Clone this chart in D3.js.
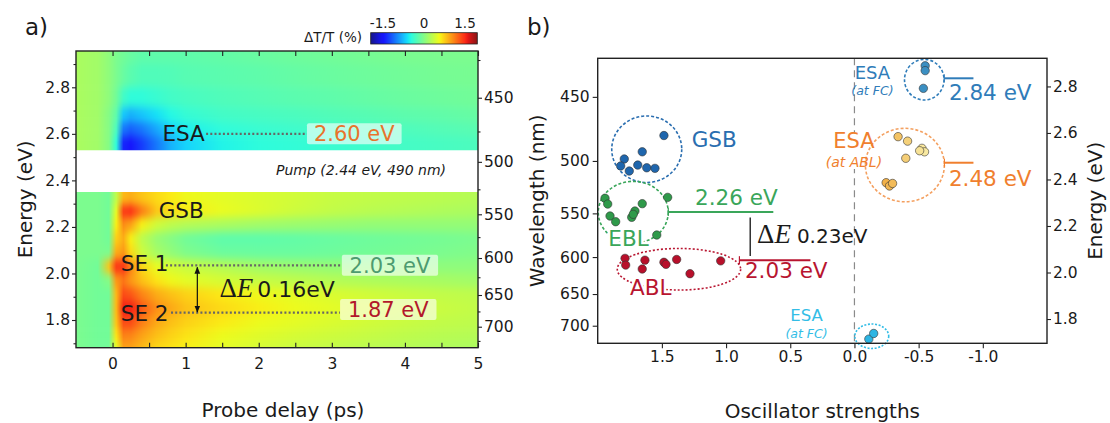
<!DOCTYPE html>
<html>
<head>
<meta charset="utf-8">
<script src="https://cdn.jsdelivr.net/npm/d3@7"></script>
<style>
  body { margin: 0; background: #fff; }
  svg text { font-family: "DejaVu Sans", sans-serif; fill: #1a1a1a; }
</style>
</head>
<body>
<svg id="fig" width="1110" height="423"></svg>
<script>
// ---------- data: panel a (transient map, dT/T in %) ----------
const delays = [-0.5, -0.2, -0.05, 0.05, 0.15, 0.25, 0.4, 0.6, 0.8, 1.0, 1.5, 2.0, 2.5, 3.0, 3.5, 4.0, 4.5, 5.0];

// above the pump window (rows from high to low energy)
const energiesHigh = [2.95, 2.85, 2.75, 2.68, 2.62, 2.56];
const signalHigh = [
  [0.2, 0.15, 0.05, -0.05, -0.1, -0.15, -0.2, -0.2, -0.2, -0.2, -0.18, -0.15, -0.12, -0.1, -0.08, -0.06, -0.05, -0.05],
  [0.2, 0.15, 0.05, -0.05, -0.15, -0.22, -0.28, -0.28, -0.27, -0.24, -0.22, -0.2, -0.17, -0.14, -0.12, -0.1, -0.08, -0.07],
  [0.2, 0.15, 0.05, -0.1, -0.35, -0.45, -0.45, -0.4, -0.35, -0.32, -0.28, -0.25, -0.22, -0.2, -0.17, -0.14, -0.12, -0.1],
  [0.2, 0.15, 0.0, -0.2, -0.7, -0.8, -0.72, -0.6, -0.5, -0.42, -0.35, -0.32, -0.3, -0.27, -0.24, -0.21, -0.19, -0.16],
  [0.2, 0.15, 0.0, -0.3, -1.05, -1.15, -1.05, -0.85, -0.65, -0.55, -0.45, -0.4, -0.37, -0.34, -0.31, -0.29, -0.26, -0.23],
  [0.2, 0.15, 0.0, -0.45, -1.4, -1.5, -1.3, -1.05, -0.8, -0.66, -0.52, -0.46, -0.43, -0.4, -0.37, -0.34, -0.32, -0.3]
];

// below the pump window
const energiesLow = [2.32, 2.27, 2.21, 2.15, 2.09, 2.03, 1.97, 1.91, 1.85, 1.79, 1.73, 1.68];
const signalLow = [
  [-0.05, -0.05, -0.1, 0.3, 0.85, 0.9, 0.8, 0.7, 0.62, 0.56, 0.5, 0.45, 0.4, 0.35, 0.32, 0.3, 0.28, 0.25],
  [-0.05, -0.05, -0.1, 0.5, 1.45, 1.5, 1.15, 0.8, 0.68, 0.62, 0.53, 0.46, 0.38, 0.32, 0.28, 0.25, 0.22, 0.2],
  [-0.05, -0.05, -0.1, 0.6, 1.05, 0.95, 0.6, 0.4, 0.3, 0.25, 0.2, 0.15, 0.12, 0.1, 0.08, 0.08, 0.08, 0.08],
  [-0.05, -0.05, -0.1, 0.75, 0.9, 0.6, 0.3, 0.1, 0.0, -0.1, -0.2, -0.2, -0.18, -0.15, -0.12, -0.1, -0.08, -0.05],
  [-0.05, -0.05, -0.05, 0.9, 1.0, 0.7, 0.38, 0.18, 0.07, -0.03, -0.13, -0.14, -0.14, -0.12, -0.1, -0.08, -0.05, -0.02],
  [-0.05, -0.1, 0.8, 1.45, 1.45, 1.1, 0.72, 0.52, 0.42, 0.36, 0.26, 0.16, 0.11, 0.08, 0.06, 0.05, 0.05, 0.05],
  [-0.05, -0.1, 0.0, 1.0, 1.15, 1.0, 0.82, 0.66, 0.56, 0.5, 0.42, 0.35, 0.3, 0.25, 0.22, 0.2, 0.18, 0.15],
  [-0.05, -0.1, -0.1, 0.85, 1.35, 1.3, 1.1, 0.92, 0.82, 0.74, 0.63, 0.56, 0.5, 0.45, 0.4, 0.36, 0.32, 0.3],
  [-0.05, -0.1, -0.1, 0.85, 1.55, 1.55, 1.3, 1.05, 0.93, 0.82, 0.7, 0.61, 0.55, 0.5, 0.45, 0.4, 0.36, 0.32],
  [-0.05, -0.1, -0.1, 0.8, 1.35, 1.35, 1.12, 0.93, 0.82, 0.74, 0.62, 0.55, 0.5, 0.45, 0.4, 0.36, 0.32, 0.3],
  [-0.05, -0.1, -0.1, 0.65, 1.1, 1.08, 0.95, 0.82, 0.73, 0.66, 0.55, 0.48, 0.42, 0.38, 0.34, 0.3, 0.27, 0.25],
  [-0.05, -0.1, -0.1, 0.5, 0.95, 0.95, 0.85, 0.72, 0.66, 0.6, 0.5, 0.42, 0.36, 0.32, 0.28, 0.25, 0.22, 0.2]
];

const pumpWindow = [2.35, 2.53];
const colourTicks = [-1.5, 0, 1.5];
const delayTicks = [0, 1, 2, 3, 4, 5];
const energyTicks = [1.8, 2.0, 2.2, 2.4, 2.6, 2.8];
const wavelengthTicks = [450, 500, 550, 600, 650, 700];
const oscTicks = [1.5, 1.0, 0.5, 0.0, -0.5, -1.0];

// panel a marked levels (eV)
const levelsA = [
  {name: 'ESA', e: 2.60, label: '2.60 eV'},
  {name: 'SE 1', e: 2.035, label: '2.03 eV'},
  {name: 'SE 2', e: 1.832, label: '1.87 eV'}
];

// ---------- data: panel b (oscillator strength, wavelength nm) ----------
const gsbPoints = [[1.484, 478.9], [1.653, 492.2], [1.793, 498.3], [1.821, 504.4], [1.754, 508.9], [1.688, 503.6], [1.618, 506.0], [1.554, 506.5]];
const eblPoints = [[1.943, 534.6], [1.922, 540.4], [1.904, 552.8], [1.860, 558.9], [1.735, 554.2], [1.710, 547.6], [1.723, 551.0], [1.653, 540.0], [1.455, 533.7], [1.540, 573.7]];
const ablPoints = [[1.787, 601.6], [1.782, 610.2], [1.632, 603.9], [1.653, 615.3], [1.484, 606.6], [1.468, 609.3], [1.385, 603.0], [1.281, 621.5], [1.042, 604.8]];
const esaFcHighPoints = [[-0.551, 429.2], [-0.551, 432.3], [-0.537, 444.1]];
const esaAblPoints = [[-0.340, 479.8], [-0.414, 483.4], [-0.526, 489.3], [-0.546, 492.2], [-0.508, 491.3], [-0.400, 497.7], [-0.247, 519.6], [-0.273, 522.7], [-0.297, 520.3]];
const esaFcLowPoints = [[-0.112, 723.5], [-0.150, 713.4]];

// ---------- layout ----------
const svg = d3.select('#fig');
const defs = svg.append('defs');
const nmToEv = nm => 1239.84 / nm;
const fmt1 = d => d3.format('.1f')(d).replace('−', '-');

const fa = {left: 76, right: 478, top: 51, bottom: 347.7};
const xA = d3.scaleLinear().domain([-0.5, 5]).range([fa.left, fa.right]);
const yA = d3.scaleLinear().domain([1.681, 2.956]).range([fa.bottom, fa.top]);

const fb = {left: 597.7, right: 1047, top: 58.3, bottom: 343.3};
const xB = d3.scaleLinear().domain([2.0, -1.5]).range([fb.left, fb.right]);
const yB = d3.scaleLinear().domain([1.6956, 2.921]).range([fb.bottom, fb.top]);

// jet colour map (matplotlib segment data), slightly washed like the print
const jetR = d3.scaleLinear().domain([0, 0.35, 0.66, 0.89, 1]).range([0, 0, 1, 1, 0.5]).clamp(true);
const jetG = d3.scaleLinear().domain([0, 0.125, 0.375, 0.64, 0.91, 1]).range([0, 0, 1, 1, 0, 0]).clamp(true);
const jetB = d3.scaleLinear().domain([0, 0.11, 0.34, 0.65, 1]).range([0.5, 1, 1, 0, 0]).clamp(true);
const cLimit = 1.95;
const colour = v => {
  const t = (v + cLimit) / (2 * cLimit);
  const c = d3.rgb(255 * jetR(t), 255 * jetG(t), 255 * jetB(t));
  return d3.interpolateRgb(c, '#dcdcdc')(0.1);
};

defs.append('filter').attr('id', 'soften')
  .attr('x', '-5%').attr('y', '-20%').attr('width', '110%').attr('height', '140%')
  .attr('color-interpolation-filters', 'sRGB')
  .append('feGaussianBlur').attr('stdDeviation', '0.6 4');

// ---------- panel a ----------
const gA = svg.append('g');

function drawMap(name, energies, rows, lo, hi) {
  const clipId = 'clip-' + name;
  defs.append('clipPath').attr('id', clipId).append('rect')
    .attr('x', fa.left).attr('y', yA(hi))
    .attr('width', fa.right - fa.left).attr('height', yA(lo) - yA(hi));
  const x1 = xA(delays[0]);
  const x2 = xA(delays[delays.length - 1]);
  const layer = gA.append('g').attr('clip-path', `url(#${clipId})`)
    .append('g').attr('filter', 'url(#soften)');
  energies.forEach((e, i) => {
    const gid = `row-${name}-${i}`;
    const grad = defs.append('linearGradient').attr('id', gid)
      .attr('gradientUnits', 'userSpaceOnUse')
      .attr('x1', x1).attr('x2', x2).attr('y1', 0).attr('y2', 0);
    rows[i].forEach((v, j) => {
      grad.append('stop').attr('offset', (xA(delays[j]) - x1) / (x2 - x1)).attr('stop-color', colour(v));
    });
    const upper = i === 0 ? hi + 0.15 : (energies[i - 1] + e) / 2;
    const lower = i === energies.length - 1 ? lo - 0.15 : (e + energies[i + 1]) / 2;
    layer.append('rect')
      .attr('x', fa.left - 20).attr('width', fa.right - fa.left + 40)
      .attr('y', yA(upper)).attr('height', yA(lower) - yA(upper) + 0.6)
      .attr('fill', `url(#${gid})`);
  });
}

drawMap('high', energiesHigh, signalHigh, pumpWindow[1], yA.domain()[1]);
drawMap('low', energiesLow, signalLow, yA.domain()[0], pumpWindow[0]);

gA.append('text')
  .attr('x', xA(3.4)).attr('y', yA(2.423))
  .attr('text-anchor', 'middle').attr('font-size', 14).attr('font-style', 'italic')
  .text('Pump (2.44 eV, 490 nm)');

// state labels
const stateLabels = [
  {text: 'ESA', t: 0.682, e: 2.569},
  {text: 'GSB', t: 0.631, e: 2.238},
  {text: 'SE 1', t: 0.113, e: 2.010},
  {text: 'SE 2', t: 0.113, e: 1.795}
];
gA.selectAll('.state').data(stateLabels).enter().append('text')
  .attr('x', d => xA(d.t)).attr('y', d => yA(d.e))
  .attr('font-size', 21.5).text(d => d.text);

// dotted level guides
const guideA = [
  {t0: 1.28, t1: 2.66, e: levelsA[0].e, box: [2.66, 3.955], colour: '#e8742c'},
  {t0: 0.73, t1: 3.14, e: levelsA[1].e, box: [3.137, 4.454], colour: '#4d9b70'},
  {t0: 0.80, t1: 3.11, e: levelsA[2].e, box: [3.113, 4.432], colour: '#b2182b'}
];
guideA.forEach((g, i) => {
  gA.append('line')
    .attr('x1', xA(g.t0)).attr('x2', xA(g.t1)).attr('y1', yA(g.e)).attr('y2', yA(g.e))
    .attr('stroke', '#666').attr('stroke-width', 2.2).attr('stroke-dasharray', '2,2.2');
  const yc = yA(g.e) - (i === 2 ? 3 : 0);
  gA.append('rect')
    .attr('x', xA(g.box[0])).attr('width', xA(g.box[1]) - xA(g.box[0]))
    .attr('y', yc - 10.5).attr('height', 21).attr('rx', 2)
    .attr('fill', '#fff').attr('fill-opacity', 0.62);
  gA.append('text')
    .attr('x', (xA(g.box[0]) + xA(g.box[1])) / 2).attr('y', yc + 7.5)
    .attr('text-anchor', 'middle').attr('font-size', 21)
    .style('fill', g.colour).text(levelsA[i].label);
});

// Delta E arrow
defs.append('marker').attr('id', 'arrowHead').attr('viewBox', '0 0 10 10')
  .attr('refX', 9).attr('refY', 5).attr('markerWidth', 6).attr('markerHeight', 6)
  .attr('orient', 'auto-start-reverse')
  .append('path').attr('d', 'M0,1 L10,5 L0,9 Z').attr('fill', '#111');
gA.append('line')
  .attr('x1', xA(1.16)).attr('x2', xA(1.16))
  .attr('y1', yA(levelsA[1].e) + 2).attr('y2', yA(levelsA[2].e) - 0.5)
  .attr('stroke', '#111').attr('stroke-width', 1.2)
  .attr('marker-start', 'url(#arrowHead)').attr('marker-end', 'url(#arrowHead)');
const deA = gA.append('text').attr('x', xA(1.463)).attr('y', yA(1.899));
deA.append('tspan').attr('font-family', 'Liberation Serif').attr('font-size', 27).text('Δ');
deA.append('tspan').attr('font-family', 'Liberation Serif').attr('font-size', 27).attr('font-style', 'italic').text('E');
deA.append('tspan').attr('font-size', 22).attr('dx', 4).text('0.16eV');

// frame and axes of panel a
function styleAxis(sel, size) {
  sel.select('.domain').remove();
  sel.selectAll('.tick line').attr('stroke', '#222').attr('stroke-width', 1.1);
  sel.selectAll('.tick text').attr('font-size', size || 15.5).attr('font-family', '"DejaVu Sans", sans-serif').style('fill', '#1a1a1a');
}

gA.append('g').attr('transform', `translate(0,${fa.bottom})`)
  .call(d3.axisBottom(xA).tickValues(d3.range(0, 5.01, 0.5)).tickSize(-5).tickPadding(10)
    .tickFormat(d => delayTicks.includes(d) ? d : ''))
  .call(styleAxis);
gA.append('g').attr('transform', `translate(0,${fa.top})`)
  .call(d3.axisTop(xA).tickValues(d3.range(0, 5.01, 0.5)).tickSize(-5).tickFormat(''))
  .call(styleAxis);
gA.append('g').attr('transform', `translate(${fa.left},0)`)
  .call(d3.axisLeft(yA).tickValues(energyTicks).tickSize(4).tickPadding(2).tickFormat(fmt1))
  .call(styleAxis);
gA.append('g').attr('transform', `translate(${fa.left},0)`)
  .call(d3.axisLeft(yA).tickValues([1.7, 1.9, 2.1, 2.3, 2.5, 2.7, 2.9]).tickSize(2.5).tickFormat(''))
  .call(styleAxis);
gA.append('g').attr('transform', `translate(${fa.right},0)`)
  .call(d3.axisRight(yA).tickValues(wavelengthTicks.map(nmToEv)).tickSize(4).tickPadding(2)
    .tickFormat((d, i) => wavelengthTicks[i]))
  .call(styleAxis);
gA.append('g').attr('transform', `translate(${fa.right},0)`)
  .call(d3.axisRight(yA).tickValues([425, 475, 525, 575, 625, 675, 725].map(nmToEv)).tickSize(2.5).tickFormat(''))
  .call(styleAxis);
gA.append('rect')
  .attr('x', fa.left).attr('y', fa.top)
  .attr('width', fa.right - fa.left).attr('height', fa.bottom - fa.top)
  .attr('fill', 'none').attr('stroke', '#222').attr('stroke-width', 1.4);

gA.append('text').attr('transform', `translate(25,${(fa.top + fa.bottom) / 2}) rotate(-90)`)
  .attr('text-anchor', 'middle').attr('dy', '0.35em').attr('font-size', 20).text('Energy (eV)');
gA.append('text').attr('x', (fa.left + fa.right) / 2 + 6).attr('y', 417)
  .attr('text-anchor', 'middle').attr('font-size', 20).text('Probe delay (ps)');
gA.append('text').attr('x', 25).attr('y', 35).attr('font-size', 23).text('a)');

// colour bar
const cbScale = d3.scaleLinear().domain([-1.5, 1.5]).range([383, 465]);
const cbGrad = defs.append('linearGradient').attr('id', 'cbGrad');
d3.range(0, 1.0001, 0.02).forEach(f => {
  cbGrad.append('stop').attr('offset', f).attr('stop-color', colour(-cLimit + f * 2 * cLimit));
});
gA.append('rect')
  .attr('x', cbScale(-cLimit)).attr('width', cbScale(cLimit) - cbScale(-cLimit))
  .attr('y', 32.7).attr('height', 11.3)
  .attr('fill', 'url(#cbGrad)').attr('stroke', '#222').attr('stroke-width', 0.8);
gA.selectAll('.cbTick').data(colourTicks).enter().append('text')
  .attr('x', d => cbScale(d)).attr('y', 27.5).attr('text-anchor', 'middle')
  .attr('font-size', 13.5).text(d => d === 0 ? '0' : fmt1(d));
gA.append('text').attr('x', 362).attr('y', 42).attr('text-anchor', 'end')
  .attr('font-size', 13.5).text('ΔT/T (%)');

// ---------- panel b ----------
const gB = svg.append('g');

gB.append('line')
  .attr('x1', xB(0)).attr('x2', xB(0)).attr('y1', fb.top).attr('y2', fb.bottom)
  .attr('stroke', '#8a8a8a').attr('stroke-width', 1.2).attr('stroke-dasharray', '7,5');

const groups = [
  {pts: gsbPoints, fill: '#1f66ad', ring: '#2a6eb0', c: [1.618, 2.530], r: [0.2726, 0.143], dash: '3,2'},
  {pts: eblPoints, fill: '#2f9a4a', ring: '#3aa65a', c: [1.723, 2.259], r: [0.2726, 0.133], dash: '3,2'},
  {pts: ablPoints, fill: '#b8102b', ring: '#b81530', c: [1.367, 2.014], r: [0.4805, 0.0895], dash: '2,2'},
  {pts: esaFcHighPoints, fill: '#3b8fc2', ring: '#2f7cb9', c: [-0.544, 2.829], r: [0.154, 0.0873], dash: '3,2'},
  {pts: esaAblPoints, fill: null, ring: '#f4a060', c: [-0.393, 2.462], r: [0.3076, 0.158], dash: '3,2'},
  {pts: esaFcLowPoints, fill: '#2cb5e3', ring: '#33bde6', c: [-0.135, 1.726], r: [0.132, 0.0525], dash: '2,1.6'}
];
const goldShade = d3.scaleLinear().domain([-0.25, -0.55]).range(['#f2b24a', '#f8eaa2']);

// white patch keeping the dashed zero line off the orange label
gB.append('rect').attr('x', xB(0.18)).attr('width', xB(-0.18) - xB(0.18))
  .attr('y', yB(2.60)).attr('height', yB(2.445) - yB(2.60)).attr('fill', '#fff');

groups.forEach(g => {
  gB.append('ellipse')
    .attr('cx', xB(g.c[0])).attr('cy', yB(g.c[1]))
    .attr('rx', Math.abs(xB(g.c[0] + g.r[0]) - xB(g.c[0])))
    .attr('ry', Math.abs(yB(g.c[1] + g.r[1]) - yB(g.c[1])))
    .attr('fill', 'none').attr('stroke', g.ring).attr('stroke-width', 1.6)
    .attr('stroke-dasharray', g.dash);
});

// energy level marks
const levelsB = [
  {e: 2.26, f0: 1.450, f1: 0.632, label: '2.26 eV', lf: 1.242, le: 2.290, colour: '#3aa65a'},
  {e: 2.053, f0: 0.896, f1: 0.343, label: '2.03 eV', lf: 0.853, le: 1.976, colour: '#b81530'},
  {e: 2.835, f0: -0.699, f1: -0.927, label: '2.84 eV', lf: -0.736, le: 2.742, colour: '#2f7cb9'},
  {e: 2.472, f0: -0.701, f1: -0.927, label: '2.48 eV', lf: -0.736, le: 2.372, colour: '#f07f2e'}
];
levelsB.forEach(l => {
  gB.append('line').attr('x1', xB(l.f0)).attr('x2', xB(l.f1)).attr('y1', yB(l.e)).attr('y2', yB(l.e))
    .attr('stroke', l.colour).attr('stroke-width', 2);
  gB.append('line').attr('x1', xB(l.f0)).attr('x2', xB(l.f0)).attr('y1', yB(l.e) - 4).attr('y2', yB(l.e) + 4)
    .attr('stroke', l.colour).attr('stroke-width', 1.2);
  gB.append('text').attr('x', xB(l.lf)).attr('y', yB(l.le))
    .attr('font-size', 21.5).style('fill', l.colour).text(l.label);
});

// Delta E in panel b
gB.append('line').attr('x1', xB(0.812)).attr('x2', xB(0.812)).attr('y1', yB(2.237)).attr('y2', yB(2.071))
  .attr('stroke', '#111').attr('stroke-width', 1.3);
const deB = gB.append('text').attr('x', xB(0.759)).attr('y', yB(2.125));
deB.append('tspan').attr('font-family', 'Liberation Serif').attr('font-size', 27).text('Δ');
deB.append('tspan').attr('font-family', 'Liberation Serif').attr('font-size', 27).attr('font-style', 'italic').text('E');
deB.append('tspan').attr('font-size', 20).attr('dx', 6).text('0.23eV');

// group labels (single line)
const groupLabels = [
  {text: 'GSB', f: 1.268, e: 2.541, colour: '#2a6eb0'},
  {text: 'EBL', f: 1.917, e: 2.116, colour: '#3aa65a', halo: true},
  {text: 'ABL', f: 1.748, e: 1.903, colour: '#b81530', halo: true}
];
gB.selectAll('.glabel').data(groupLabels).enter().append('text')
  .attr('x', d => xB(d.f)).attr('y', d => yB(d.e))
  .attr('font-size', 21.5)
  .style('fill', d => d.colour)
  .style('stroke', d => d.halo ? '#fff' : null).style('stroke-width', d => d.halo ? 5 : null)
  .style('paint-order', 'stroke')
  .text(d => d.text);

// ESA labels: name and an italic note underneath
const esaLabels = [
  {f: -0.140, e: 2.834, size: 18, sub: '(at FC)', se: 2.765, subSize: 12.5, colour: '#2f7cb9'},
  {f: 0.004, e: 2.534, size: 21, sub: '(at ABL)', se: 2.452, subSize: 14, colour: '#f07f2e'},
  {f: 0.373, e: 1.790, size: 16.5, sub: '(at FC)', se: 1.719, subSize: 12.5, colour: '#33bde6'}
];
esaLabels.forEach(d => {
  gB.append('text').attr('x', xB(d.f)).attr('y', yB(d.e))
    .attr('text-anchor', 'middle').attr('font-size', d.size).style('fill', d.colour).text('ESA');
  gB.append('text').attr('x', xB(d.f)).attr('y', yB(d.se))
    .attr('text-anchor', 'middle').attr('font-size', d.subSize).attr('font-style', 'italic')
    .style('fill', d.colour).text(d.sub);
});

// points
groups.forEach(g => {
  gB.selectAll(null).data(g.pts).enter().append('circle')
    .attr('cx', d => xB(d[0])).attr('cy', d => yB(nmToEv(d[1])))
    .attr('r', 4.2)
    .attr('fill', d => g.fill || goldShade(d[0]))
    .attr('stroke', '#333').attr('stroke-width', 0.7).attr('stroke-opacity', 0.85);
});

// axes of panel b
gB.append('g').attr('transform', `translate(0,${fb.bottom})`)
  .call(d3.axisBottom(xB).tickValues(oscTicks).tickSize(5).tickPadding(3).tickFormat(fmt1))
  .call(styleAxis);
gB.append('g').attr('transform', `translate(${fb.left},0)`)
  .call(d3.axisLeft(yB).tickValues(wavelengthTicks.map(nmToEv)).tickSize(5).tickPadding(3)
    .tickFormat((d, i) => wavelengthTicks[i]))
  .call(styleAxis);
gB.append('g').attr('transform', `translate(${fb.right},0)`)
  .call(d3.axisRight(yB).tickValues(energyTicks).tickSize(4).tickPadding(2).tickFormat(fmt1))
  .call(styleAxis);
gB.append('rect')
  .attr('x', fb.left).attr('y', fb.top)
  .attr('width', fb.right - fb.left).attr('height', fb.bottom - fb.top)
  .attr('fill', 'none').attr('stroke', '#222').attr('stroke-width', 1.4);

gB.append('text').attr('transform', `translate(537,${(fb.top + fb.bottom) / 2}) rotate(-90)`)
  .attr('text-anchor', 'middle').attr('dy', '0.35em').attr('font-size', 20).text('Wavelength (nm)');
gB.append('text').attr('transform', `translate(1095,${(fb.top + fb.bottom) / 2}) rotate(-90)`)
  .attr('text-anchor', 'middle').attr('dy', '0.35em').attr('font-size', 20).text('Energy (eV)');
gB.append('text').attr('x', (fb.left + fb.right) / 2).attr('y', 418)
  .attr('text-anchor', 'middle').attr('font-size', 20).text('Oscillator strengths');
gB.append('text').attr('x', 527).attr('y', 35).attr('font-size', 23).text('b)');
</script>
</body>
</html>
